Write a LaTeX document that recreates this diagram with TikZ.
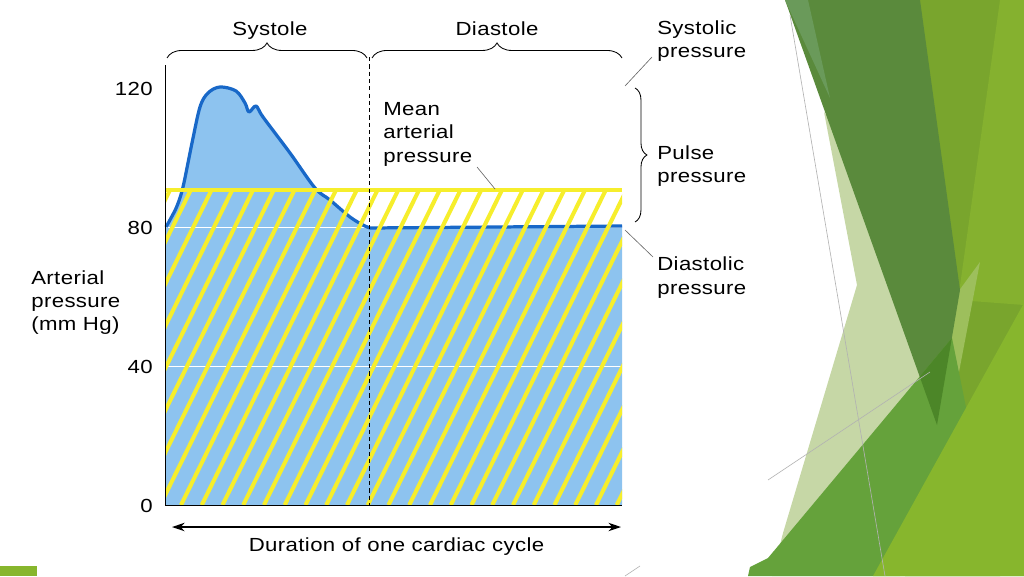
\documentclass[tikz,border=0pt]{standalone}
\usepackage{fontspec}
\setmainfont{Liberation Sans}[FakeStretch=1.17, LetterSpace=2]
\usepackage{tikz}
\usetikzlibrary{arrows.meta}
\usetikzlibrary{calc}
\usetikzlibrary{positioning, decorations.pathreplacing}
\definecolor{fillblue}{HTML}{8DC3EF}
\definecolor{lineblue}{HTML}{1868C8}
\definecolor{hatch}{HTML}{F6EE2C}
\definecolor{leafdark}{HTML}{5A8A3C}
\definecolor{leafstrip}{HTML}{6A9A5A}
\definecolor{leafolive}{HTML}{79A52D}
\definecolor{leaflight}{HTML}{85B12F}
\definecolor{leafband}{HTML}{9DBF5C}
\definecolor{leafpale}{HTML}{C6D7A6}
\definecolor{leafmid}{HTML}{65A23B}
\definecolor{leafdeep}{HTML}{4C8628}
\definecolor{leafbright}{HTML}{87B62D}
\tikzstyle{lbl} = [inner sep=0pt, align=left, font=\fontsize{13.5}{16.7}\selectfont]
\tikzstyle{tick} = [lbl, anchor=east]
\tikzstyle{leader} = [draw=black!60, line width=0.45pt]
\tikzstyle{bracetop} = [decorate, decoration={brace, amplitude=10.7pt}, line width=0.6pt]
\tikzstyle{braceside} = [decorate, decoration={brace, amplitude=8.5pt}, line width=0.6pt]
\tikzstyle{stripe} = [draw=hatch, line width=2.9pt]
\tikzstyle{wave} = [draw=lineblue, line width=2.3pt, line join=round]
\tikzstyle{arrow} = [{Stealth[length=9pt, width=6pt]}-{Stealth[length=9pt, width=6pt]}, line width=0.9pt]
\tikzstyle{thin} = [draw=black!30, line width=0.45pt]
\newcommand{\ptick}[1]{\node[tick] (t#1) at (153,{505.5-3.475*#1}) {#1}}
\newcommand{\pressurewave}{plot[smooth, tension=0.55] coordinates {(166,227) (171,218) (177,206) (183,187) (192,143) (200,107) (208,93) (220,87) (236,91) (245,103) (249,112) (256,106) (263,117) (290,153) (315,188) (330,200) (350,217) (363,225) (370,228)}}

\begin{document}
\begin{tikzpicture}[x=0.25mm, y=-0.25mm]
	\useasboundingbox (0,0) rectangle (1024,576);
	
	%background
	\fill[leafolive] (918,0) -- (1024,0) -- (1024,576) -- (905,576) -- cycle;
	\fill[leaflight] (1000,0) -- (1024,0) -- (1024,305) -- (958,300) -- cycle;
	\fill[leafpale] (824,112) -- (857,285) -- (783,533) -- (772,576) -- (900,576) -- (958,300) -- cycle;
	\fill[leafband] (958,292) -- (980,262) -- (946,440) -- (937,425) -- cycle;
	\fill[leafdark] (785,0) -- (920,0) -- (960,290) -- (937,425) -- cycle;
	\fill[leafstrip] (785,0) -- (808,0) -- (830,98) -- cycle;
	\fill[leafmid] (748,576) -- (750,567) -- (768,558) -- (952,338) -- (1000,576) -- cycle;
	\begin{scope}
		\clip (785,0) -- (920,0) -- (960,290) -- (937,425) -- cycle;
		\fill[leafdeep] (768,558) -- (952,338) -- (1000,576) -- cycle;
	\end{scope}
	\fill[leafbright] (873,576) -- (1024,303) -- (1024,576) -- cycle;
	\draw[thin] (790,15) -- (885,576);
	\draw[thin] (768,480) -- (930,372);
	\draw[thin] (625,576) -- (640,566);
	\fill[leafbright] (0,566) rectangle (37,576);
	
	%curve and mean band
	\fill[fillblue] \pressurewave -- (622,226) -- (622,505) -- (166,505) -- cycle;
	\draw[white, line width=0.8pt] (166,227.5) -- (622,227.5);
	\draw[white, line width=0.8pt] (166,366.5) -- (622,366.5);
	\draw[wave] \pressurewave -- (622,226);
	\begin{scope}
		\clip (166,190) rectangle (622,505);
		\foreach \i in {-8,...,21}
			\draw[stripe] ({181+20.75*\i},505) -- ++(155,-315);
	\end{scope}
	\draw[hatch, line width=3pt] (166,190) -- (622,190);
	\draw[dash pattern=on 3pt off 2.2pt, line width=0.6pt] (369,57) -- (369,505);
	\draw[line width=0.7pt] (165.5,65) -- (165.5,505.5) -- (622,505.5);
	
	%axis
	\ptick{0};
	\ptick{40};
	\ptick{80};
	\ptick{120};
	\node[lbl, anchor=north west] (ylab) at (31,270) {Arterial\\pressure\\(mm Hg)};
	
	\coordinate (cl) at (172,527);
	\coordinate (cr) at (621,527);
	\draw[arrow] (cl) -- (cr) node (dur)[midway, below=2.5mm, lbl] {Duration of one cardiac cycle};
	
	%phases
	\draw[bracetop] (167,58) -- (367,58);
	\node[lbl, anchor=base] (sys) at (270,35) {Systole};
	\draw[bracetop] (372,58) -- (622,58);
	\node[lbl, anchor=base] (dia) at (497,35) {Diastole};
	
	%labels on the right
	\node[lbl, anchor=north west] (systolic) at (657,20) {Systolic\\pressure};
	\coordinate (syspt) at (625,86);
	\coordinate (sysend) at (652,57);
	\draw[leader] (syspt) -- (sysend);
	
	\draw[braceside] (635,88) -- (635,222);
	\node[lbl, anchor=north west] (pulse) at (657,145) {Pulse\\pressure};
	
	\node[lbl, anchor=north west] (diastolic) at (657,256.7) {Diastolic\\pressure};
	\coordinate (diapt) at (625,230);
	\coordinate (diaend) at (653,257);
	\draw[leader] (diapt) -- (diaend);
	
	\node[lbl, anchor=north west] (mean) at (383,102) {Mean\\arterial\\pressure};
	\coordinate (meanpt) at (495,189);
	\coordinate (meanend) at (477,167);
	\draw[leader] (meanend) -- (meanpt);
\end{tikzpicture}
\end{document}
